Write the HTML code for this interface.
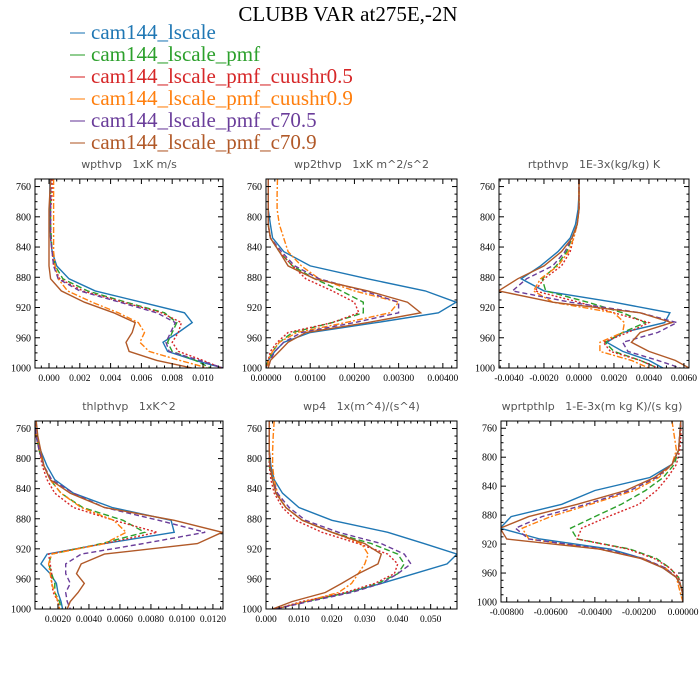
<!DOCTYPE html>
<html><head><meta charset="utf-8"><style>
body{margin:0;background:#fff;}
svg{display:block;}
.pt{white-space:pre;}
</style></head><body>
<svg id="fig" width="700" height="700" viewBox="0 0 700 700" xmlns="http://www.w3.org/2000/svg">
<text x="348" y="21" text-anchor="middle" font-family="Liberation Serif, serif" font-size="21" fill="#000">CLUBB VAR at275E,-2N</text>
<g id="legend"></g>
<g id="panels"></g>
</svg>
<script>
const levels = [750,770,790,810,828,846,865,882,898,913,927,940,953,966,978,990,1000];
const seriesNames = ["cam144_lscale","cam144_lscale_pmf","cam144_lscale_pmf_cuushr0.5","cam144_lscale_pmf_cuushr0.9","cam144_lscale_pmf_c70.5","cam144_lscale_pmf_c70.9"];
const seriesColors = ["#1f77b4","#2ca02c","#d62728","#ff7f0e","#6a3d9a","#b15928"];
const seriesDash = ["","6,3","2,2","6,2,2,2","5,3",""];

// wpthvp (x1e-3)
const wpthvp_blue   = [0.05,0.05,0.05,0.05,0.1,0.2,0.5,1.3,3.0,6.0,8.8,9.3,8.4,7.4,7.7,9.5,11.3];
const wpthvp_green  = [0.1,0.1,0.1,0.1,0.15,0.2,0.4,0.9,2.5,5.0,7.5,8.3,8.0,7.7,8.0,9.5,10.5];
const wpthvp_red    = [0.2,0.2,0.1,0.1,0.1,0.2,0.3,0.7,2.2,4.8,7.3,8.6,8.4,8.0,8.4,10.0,11.2];
const wpthvp_orange = [0.3,0.3,0.3,0.3,0.3,0.3,0.4,0.6,1.2,2.8,4.5,5.8,6.2,5.9,6.5,8.5,10.3];
const wpthvp_purple = [0.1,0.1,0.1,0.1,0.1,0.2,0.3,0.6,2.0,4.6,7.0,8.2,7.9,7.6,7.8,9.8,11.3];
const wpthvp_brown  = [0.1,0.05,0.0,0.0,0.0,0.0,0.0,0.1,0.8,2.3,4.2,5.6,5.4,5.0,5.2,7.0,9.3];
// wp2thvp (x1e-3)
const wp2_blue   = [0.05,0.05,0.05,0.1,0.15,0.4,1.0,2.3,3.6,4.3,3.9,2.5,1.0,0.4,0.2,0.05,0.0];
const wp2_green  = [0.05,0.05,0.05,0.05,0.1,0.3,0.6,1.1,1.7,2.2,2.2,1.5,0.6,0.3,0.15,0.05,0.0];
const wp2_red    = [0.05,0.05,0.05,0.05,0.1,0.3,0.6,0.9,1.5,2.0,2.1,1.5,0.5,0.25,0.1,0.05,0.0];
const wp2_orange = [0.26,0.25,0.25,0.3,0.4,0.5,0.8,1.2,2.0,3.0,2.8,1.8,0.7,0.3,0.15,0.05,0.05];
const wp2_purple = [0.05,0.05,0.05,0.05,0.1,0.35,0.65,1.2,2.2,3.0,3.0,2.0,0.8,0.4,0.2,0.1,0.05];
const wp2_brown  = [0.05,0.05,0.05,0.05,0.1,0.3,0.5,1.1,2.3,3.2,3.5,2.3,0.9,0.5,0.3,0.1,0.05];
// rtpthvp (x1e-3)
const rtp_blue   = [0,0,-0.05,-0.2,-0.5,-1.2,-2.2,-3.3,-2.0,2.0,5.2,4.9,2.5,1.6,2.5,4.0,4.8];
const rtp_green  = [0,0,0,-0.1,-0.4,-0.7,-1.3,-2.1,-1.9,0.5,2.5,3.8,2.5,1.5,2.0,3.5,4.5];
const rtp_red    = [0,0,0,-0.1,-0.3,-0.5,-1.0,-2.0,-2.5,0.0,2.0,4.0,2.8,1.4,1.8,3.5,4.5];
const rtp_orange = [0,0,0,-0.1,-0.3,-0.6,-1.2,-2.2,-2.6,-1.5,2.0,2.6,2.5,1.2,1.2,3.0,4.0];
const rtp_purple = [0,0,0,-0.1,-0.4,-0.8,-1.5,-3.0,-3.8,-0.5,3.5,5.6,4.5,2.5,2.8,4.5,5.8];
const rtp_brown  = [0,0,0,-0.1,-0.4,-1.0,-2.0,-3.5,-4.6,-1.5,3.5,5.3,3.5,3.0,4.0,5.5,6.3];
// thlpthvp (x1e-3)
const thl_blue   = [0.5,0.6,0.9,1.3,1.8,3.0,5.5,9.3,9.5,5.0,1.3,0.9,1.5,1.9,2.0,2.2,2.3];
const thl_green  = [0.5,0.6,0.8,1.1,1.5,2.2,3.6,6.2,7.6,4.8,1.6,1.4,1.6,1.8,1.8,2.1,2.2];
const thl_red    = [0.5,0.6,0.8,1.0,1.3,1.8,3.0,5.6,8.4,5.0,1.4,1.5,1.6,1.6,1.7,2.0,2.1];
const thl_orange = [0.5,0.6,0.8,1.1,1.5,2.2,3.5,5.6,6.4,5.0,1.6,1.4,1.5,1.6,1.8,2.0,2.1];
const thl_purple = [0.5,0.6,0.8,1.1,1.6,3.0,5.0,8.5,11.5,7.5,3.5,2.5,2.5,2.8,2.5,2.6,2.8];
const thl_brown  = [0.6,0.7,0.9,1.1,1.5,2.8,5.0,9.5,12.6,11.0,5.0,3.5,3.2,3.7,3.3,2.8,2.6];
// wp4 (x1e-3)
const wp4_blue   = [1,1,1,1.5,2.5,5,10,20,37,48,58,55,45,35,25,12,3];
const wp4_green  = [1,1,1,1,2,3,6,11,20,32,40,42,40,34,25,12,3];
const wp4_red    = [1,1,1,1,1.5,2.5,5,9,17,28,37,40,39,33,24,11,3];
const wp4_orange = [2.5,2.2,2,2,2.5,3.5,6,11,20,29,31,30,28,26,22,12,3];
const wp4_purple = [1,1,1,1.2,2,3.5,7,12,22,35,42,44,40,35,26,13,3];
const wp4_brown  = [1,1,1,1.2,2,3,6,11,20,30,35,34,28,23,18,8,2];
// wprtpthlp (x1e-3)
const wrt_blue   = [-0.1,-0.15,-0.2,-0.5,-1.5,-4.0,-5.5,-7.8,-8.3,-6.5,-3.3,-1.8,-0.9,-0.3,-0.1,0,0];
const wrt_green  = [-0.1,-0.15,-0.2,-0.4,-0.9,-1.7,-2.8,-4.0,-5.1,-4.8,-2.4,-1.2,-0.6,-0.2,-0.1,0,0];
const wrt_red    = [-0.1,-0.1,-0.15,-0.3,-0.7,-1.2,-2.0,-3.4,-4.6,-4.8,-2.5,-1.3,-0.6,-0.2,-0.1,0,0];
const wrt_orange = [-0.5,-0.4,-0.3,-0.5,-1.1,-2.2,-4.2,-6.0,-7.3,-7.0,-3.8,-1.8,-0.8,-0.3,-0.2,-0.1,0];
const wrt_purple = [-0.1,-0.15,-0.2,-0.5,-1.2,-2.4,-4.4,-6.4,-7.6,-7.0,-3.6,-1.8,-0.8,-0.3,-0.1,0,0];
const wrt_brown  = [-0.1,-0.15,-0.2,-0.5,-1.3,-2.6,-4.8,-7.0,-8.3,-8.0,-3.8,-1.9,-0.9,-0.3,-0.1,0,0];

const yTicks = [760,800,840,880,920,960,1000];
const p1Ticks = ["0.000","0.002","0.004","0.006","0.008","0.010"];
const p2Ticks = ["0.00000","0.00100","0.00200","0.00300","0.00400"];
const p3Ticks = ["-0.0040","-0.0020","0.0000","0.0020","0.0040","0.0060"];
const p4Ticks = ["0.0020","0.0040","0.0060","0.0080","0.0100","0.0120"];
const p5Ticks = ["0.000","0.010","0.020","0.030","0.040","0.050"];
const p6Ticks = ["-0.00800","-0.00600","-0.00400","-0.00200","0.00000"];

const panels = [
 {name:"wpthvp",title:"wpthvp   1xK m/s",x0:35,x1:223,y0:179,y1:368,xmin:-0.91,xmax:11.3,ticks:p1Ticks,minor:4,data:[wpthvp_blue,wpthvp_green,wpthvp_red,wpthvp_orange,wpthvp_purple,wpthvp_brown]},
 {name:"wp2thvp",title:"wp2thvp   1xK m^2/s^2",x0:266,x1:457,y0:179,y1:368,xmin:0,xmax:4.32,ticks:p2Ticks,minor:5,data:[wp2_blue,wp2_green,wp2_red,wp2_orange,wp2_purple,wp2_brown]},
 {name:"rtpthvp",title:"rtpthvp   1E-3x(kg/kg) K",x0:499,x1:689,y0:179,y1:368,xmin:-4.57,xmax:6.29,ticks:p3Ticks,minor:4,data:[rtp_blue,rtp_green,rtp_red,rtp_orange,rtp_purple,rtp_brown]},
 {name:"thlpthvp",title:"thlpthvp   1xK^2",x0:35,x1:223,y0:421,y1:609,xmin:0.52,xmax:12.65,ticks:p4Ticks,minor:4,data:[thl_blue,thl_green,thl_red,thl_orange,thl_purple,thl_brown]},
 {name:"wp4",title:"wp4   1x(m^4)/(s^4)",x0:266,x1:457,y0:421,y1:609,xmin:0,xmax:58,ticks:p5Ticks,minor:5,data:[wp4_blue,wp4_green,wp4_red,wp4_orange,wp4_purple,wp4_brown]},
 {name:"wprtpthlp",title:"wprtpthlp   1-E-3x(m kg K)/(s kg)",x0:501,x1:683,y0:421,y1:602,xmin:-8.26,xmax:0,ticks:p6Ticks,minor:4,data:[wrt_blue,wrt_green,wrt_red,wrt_orange,wrt_purple,wrt_brown]}
];
const NS="http://www.w3.org/2000/svg";
function mk(tag,attrs,parent){const e=document.createElementNS(NS,tag);for(const k in attrs)e.setAttribute(k,attrs[k]);parent.appendChild(e);return e;}

// legend
const lg=document.getElementById('legend');
seriesNames.forEach((n,i)=>{
  const y=33+i*22;
  const l=mk('line',{x1:70,x2:85,y1:y,y2:y,stroke:seriesColors[i],'stroke-width':1.5,opacity:0.7},lg);
  
  
  const t=mk('text',{x:91,y:y+6,'font-family':'Liberation Serif, serif','font-size':21,fill:seriesColors[i]},lg);
  t.textContent=n;
  
  
});

const root=document.getElementById('panels');
panels.forEach(P=>{
  const g=mk('g',{},root);
  
  
  const xs=v=>P.x0+(v-P.xmin)/(P.xmax-P.xmin)*(P.x1-P.x0);
  const ys=p=>P.y0+(p-750)/250*(P.y1-P.y0);
  const tt=mk('text',{x:(P.x0+P.x1)/2,y:P.y0-11,'text-anchor':'middle','font-family':'DejaVu Sans, sans-serif','font-size':11,fill:'#555','class':'pt'},g);
  tt.textContent=P.title;
  
  
  const clipId='clip-'+P.name;
  const cp=mk('clipPath',{id:clipId},g);
  mk('rect',{x:P.x0,y:P.y0,width:P.x1-P.x0,height:P.y1-P.y0},cp);
  P.data.forEach((arr,i)=>{
    const d=arr.map((v,k)=>(k?'L':'M')+xs(v).toFixed(1)+','+ys(levels[k]).toFixed(1)).join('');
    const a={d:d,fill:'none',stroke:seriesColors[i],'stroke-width':1.4,'clip-path':'url(#'+clipId+')'};
    if(seriesDash[i])a['stroke-dasharray']=seriesDash[i];
    const pth=mk('path',a,g);
    
    
  });
  const fr=mk('rect',{x:P.x0,y:P.y0,width:P.x1-P.x0,height:P.y1-P.y0,fill:'none',stroke:'#000','stroke-width':1},g);
  
  
  for(let p=760;p<=1000;p+=10){
    const y=ys(p), len=(p%40===0)?5:2.5;
    mk('line',{x1:P.x0,x2:P.x0+len,y1:y,y2:y,stroke:'#000','stroke-width':1},g);
    mk('line',{x1:P.x1,x2:P.x1-len,y1:y,y2:y,stroke:'#000','stroke-width':1},g);
  }
  yTicks.forEach(p=>{
    const t=mk('text',{x:P.x0-4,y:ys(p)+3.5,'text-anchor':'end','font-family':'Liberation Serif, serif','font-size':10,fill:'#000'},g);
    t.textContent=String(p);
    
    
  });
  const tv=P.ticks.map(s=>parseFloat(s)*1000);
  const step=tv[1]-tv[0];
  const sub=step/P.minor;
  for(let v=tv[0]-step*3;v<=P.xmax+1e-9;v+=sub){
    if(v<P.xmin-1e-9)continue;
    const x=xs(v);
    const major=Math.abs(((v-tv[0])/step)-Math.round((v-tv[0])/step))<1e-6;
    const len=major?5:2.5;
    mk('line',{x1:x,x2:x,y1:P.y1,y2:P.y1-len,stroke:'#000','stroke-width':1},g);
    mk('line',{x1:x,x2:x,y1:P.y0,y2:P.y0+len,stroke:'#000','stroke-width':1},g);
  }
  P.ticks.forEach((s,k)=>{
    const t=mk('text',{x:xs(tv[k]),y:P.y1+13,'text-anchor':'middle','font-family':'Liberation Serif, serif','font-size':9.5,fill:'#000'},g);
    t.textContent=s;
    
    
  });
});
</script>
</body></html>
